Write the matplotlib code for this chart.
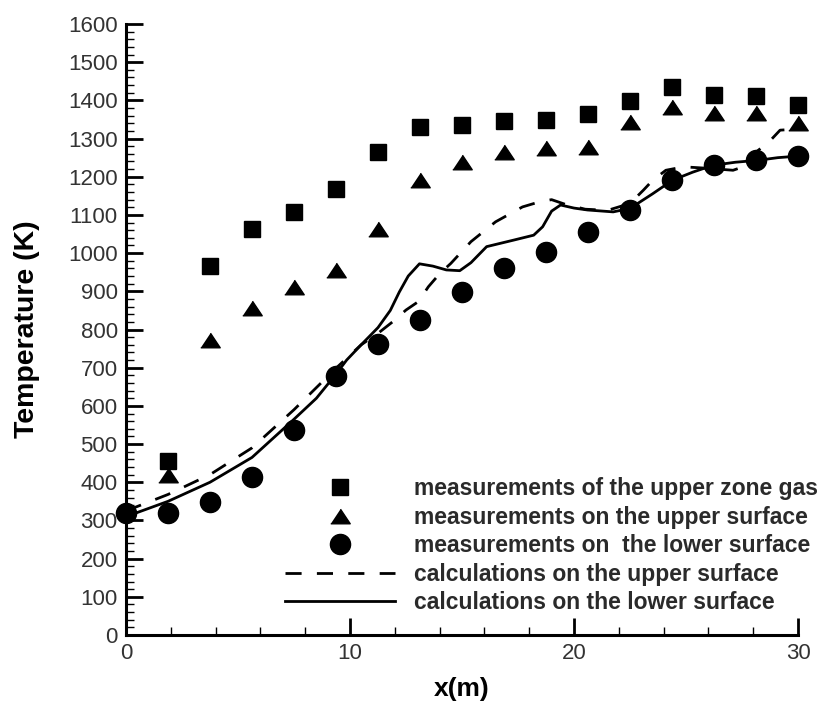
import matplotlib
matplotlib.use('Agg')
import matplotlib.pyplot as plt
import numpy as np

plt.rcParams['font.family'] = ['Liberation Sans', 'DejaVu Sans']

# measured temperatures along the tunnel (K)
x_meas = [1.875, 3.75, 5.625, 7.5, 9.375, 11.25, 13.125, 15.0, 16.875,
          18.75, 20.625, 22.5, 24.375, 26.25, 28.125, 30.0]
T_gas = [456, 967, 1062, 1107, 1168, 1264, 1330, 1335, 1346, 1348, 1364,
         1399, 1434, 1414, 1411, 1389]
T_upper = [419, 772, 855, 912, 957, 1062, 1191, 1239, 1265, 1274, 1278,
           1344, 1383, 1366, 1366, 1341]
x_low = [0.0] + x_meas
T_lower = [319, 319, 349, 413, 537, 678, 763, 825, 897, 960, 1003, 1056,
           1113, 1191, 1230, 1243, 1255]

# computed profiles
x_cu = [0, 1.875, 3.75, 5.625, 7.5, 9.4, 10.5, 11.25, 11.9, 12.5, 13.05,
        13.5, 14.0, 14.5, 15.4, 16.5, 17.7, 18.5, 19.0, 19.6, 20.5, 21.5,
        22.5, 23.1, 23.5, 24.1, 24.9, 26.0, 27.1, 27.7, 28.2, 28.75, 29.2, 30]
T_cu = [325, 368, 420, 490, 590, 700, 760, 790, 820, 851, 873, 912, 946,
        973, 1030, 1082, 1121, 1135, 1140, 1128, 1115, 1112, 1130, 1165,
        1190, 1217, 1226, 1222, 1217, 1229, 1268, 1294, 1322, 1325]
x_cl = [0, 1.875, 3.75, 5.625, 7.5, 8.5, 9.4, 9.85, 10.5, 11.25, 11.8, 12.2,
        12.6, 13.1, 13.7, 14.3, 14.9, 15.4, 16.1, 17.3, 18.2, 18.6, 19.0,
        19.4, 20.0, 20.6, 21.75, 22.5, 23.5, 24.4, 25.3, 26.2, 27.2, 28.2,
        29.1, 30]
T_cl = [310, 350, 400, 465, 565, 620, 685, 720, 760, 805, 850, 898, 940,
        972, 966, 956, 954, 975, 1017, 1034, 1047, 1069, 1110, 1126, 1118,
        1113, 1108, 1117, 1155, 1191, 1212, 1230, 1238, 1243, 1250, 1254]

labels = ['measurements of the upper zone gas',
          'measurements on the upper surface',
          'measurements on  the lower surface',
          'calculations on the upper surface',
          'calculations on the lower surface']

tri = [(-1, -0.75), (1, -0.75), (0, 0.75)]

fig = plt.figure(figsize=(8.29, 7.08), dpi=100)
ax = fig.add_axes([126/829, 73/708, 672/829, 611/708])

l1, = ax.plot(x_meas, T_gas, ls='none', marker='s', ms=11.5, color='k', clip_on=False)
l2, = ax.plot(x_meas, T_upper, ls='none', marker=tri, ms=14, color='k', clip_on=False)
l3, = ax.plot(x_low, T_lower, ls='none', marker='o', ms=14.5, color='k', clip_on=False, zorder=4)
l4, = ax.plot(x_cu, T_cu, color='k', lw=2, ls=(0, (5.8, 5.5)))
l5, = ax.plot(x_cl, T_cl, color='k', lw=2)

ax.set_xlim(0, 30)
ax.set_ylim(0, 1600)
ax.set_xticks([0, 10, 20, 30])
ax.set_xticks(np.arange(0, 31, 2), minor=True)
ax.set_yticks(np.arange(0, 1601, 100))
ax.set_yticks(np.arange(0, 1601, 20), minor=True)

for s in ['top', 'right']:
    ax.spines[s].set_visible(False)
for s in ['left', 'bottom']:
    ax.spines[s].set_linewidth(2.2)

ax.tick_params(which='major', direction='in', length=12, width=2, pad=6,
               labelsize=16, labelcolor='#333333')
ax.tick_params(which='minor', direction='in', length=6, width=1)

ax.set_xlabel('x(m)', fontsize=19, fontweight='bold', labelpad=9)
ax.set_ylabel('Temperature (K)', fontsize=20.5, fontweight='bold', labelpad=20)

ax.legend([l1, l2, l3, l4, l5], labels, loc='lower left',
          bbox_to_anchor=(274/829, 0.116), bbox_transform=fig.transFigure,
          frameon=False, borderpad=0, handlelength=4.8, handletextpad=0.79,
          labelspacing=0.24, numpoints=1,
          prop={'size': 16.5, 'weight': 'bold'}, labelcolor='#2a2a2a')

fig.savefig('out.png', dpi=100)
